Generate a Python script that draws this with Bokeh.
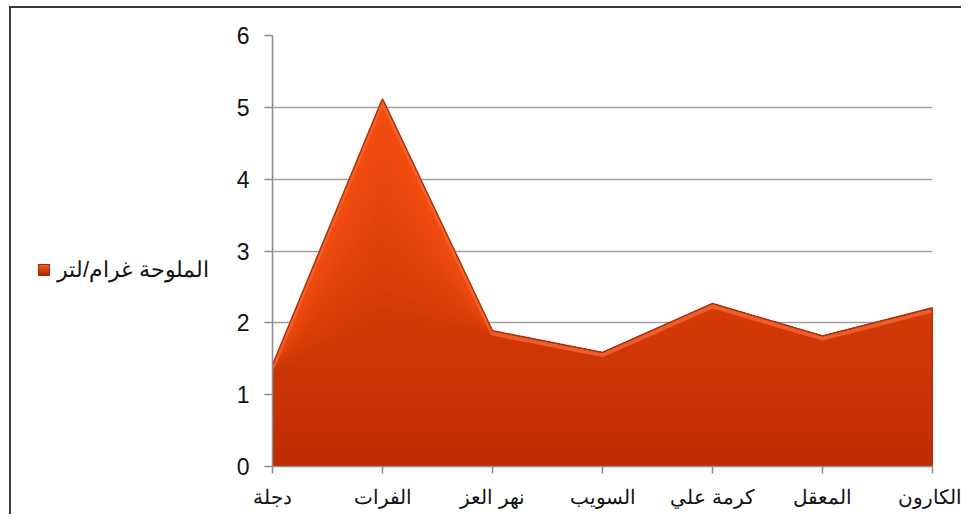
import numpy as np
from bokeh.plotting import figure
from bokeh.models import Range1d, FixedTicker, Div
from bokeh.layouts import row
from bokeh.embed import file_html
from bokeh.resources import INLINE

categories = ["دجلة", "الفرات", "نهر العز", "السويب", "كرمة علي", "المعقل", "الكارون"]
salinity = [1.41, 5.12, 1.89, 1.59, 2.27, 1.82, 2.21]
y_ticks = [0, 1, 2, 3, 4, 5, 6]
series_name = "الملوحة غرام/لتر"

x = np.arange(len(categories))
y = np.array(salinity)

BORDER = "2px solid #3a3a3a"

p = figure(width=749, height=508, output_backend="svg", toolbar_location=None,
           x_range=Range1d(0, len(categories) - 1), y_range=Range1d(0, 6),
           min_border_left=60, min_border_right=29, min_border_top=27, min_border_bottom=50,
           outline_line_color=None, background_fill_color="white", border_fill_color="white",
           margin=(6, 0, 0, 0), styles={"border-top": BORDER})

# vertical gradient fill built from overlapping bands (top colour drawn first)
levels = np.linspace(0, 5.2, 41)[1:]
c0 = np.array([0xBE, 0x2C, 0x02])
c1 = np.array([0xF4, 0x4E, 0x10])
for b in levels[::-1]:
    t = b / 5.2
    c = (c0 + (c1 - c0) * t).astype(int)
    col = "#%02x%02x%02x" % tuple(c)
    p.varea(x=x, y1=np.zeros_like(y), y2=np.minimum(y, b), fill_color=col, fill_alpha=1)

# bevelled top edge
p.line(x=x, y=y - 0.04, line_color="#F26632", line_width=4, line_alpha=0.8)
p.line(x=x, y=y, line_color="#A8300E", line_width=1.3)
p.segment(x0=[x[-1]], y0=[0], x1=[x[-1]], y1=[y[-1]], line_color="#A8300E", line_width=2)

# axes styling
p.xaxis.ticker = FixedTicker(ticks=list(x))
p.xaxis.major_label_overrides = {int(i): c for i, c in zip(x, categories)}
p.yaxis.ticker = FixedTicker(ticks=y_ticks)
for ax in (p.xaxis[0], p.yaxis[0]):
    ax.axis_line_color = "#8c8c8c"
    ax.axis_line_width = 1.5
    ax.major_tick_line_color = "#8c8c8c"
    ax.major_tick_line_width = 1.5
    ax.major_tick_in = 0
    ax.minor_tick_line_color = None
    ax.major_label_text_color = "#111111"
    ax.major_label_text_font = "Liberation Sans"
p.xaxis.major_tick_out = 7
p.yaxis.major_tick_out = 8
p.xaxis.major_label_text_font_size = "20px"
p.yaxis.major_label_text_font_size = "23px"
p.xaxis.major_label_standoff = 12
p.yaxis.major_label_standoff = 15
p.xgrid.grid_line_color = None
p.ygrid.ticker = FixedTicker(ticks=y_ticks)
p.ygrid.grid_line_color = "#a0a0a0"
p.ygrid.grid_line_width = 1.5

legend_html = (
    '<div style="position:relative; top:246px; left:27px; white-space:nowrap; '
    'display:flex; align-items:center; gap:7px; font-family:\'Liberation Sans\', sans-serif; '
    'font-size:22px; color:#111;">'
    '<span style="display:inline-block; width:12px; height:12px; '
    'background:linear-gradient(#F4581C, #B82A02); border:1px solid #9a2a08; box-sizing:border-box;"></span>'
    '<span dir="rtl">' + series_name + '</span></div>'
)
legend_div = Div(text=legend_html, width=203, height=508, margin=(6, 0, 0, 9),
                 styles={"border-left": BORDER, "border-top": BORDER})

layout = row(legend_div, p, spacing=0)

open("out.html", "w").write(file_html(layout, INLINE))
